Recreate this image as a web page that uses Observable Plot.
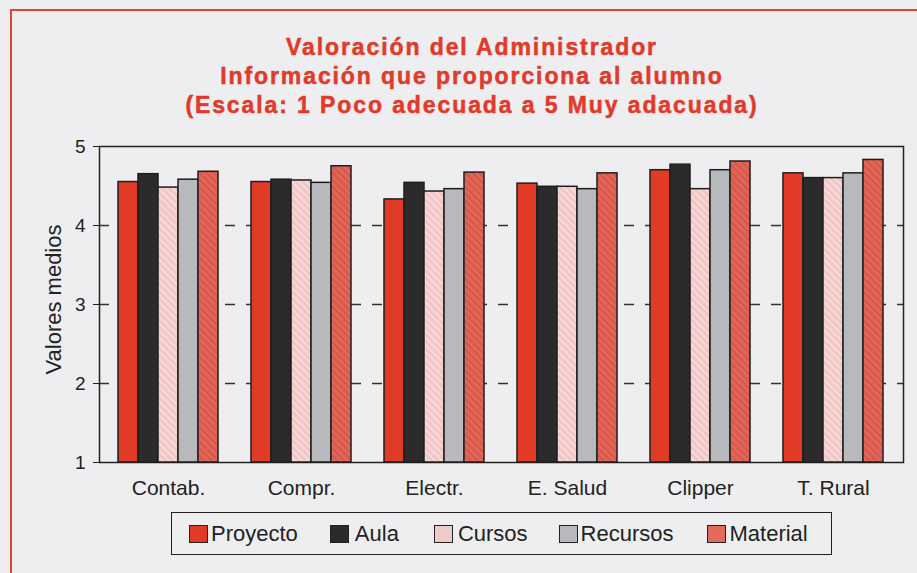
<!DOCTYPE html>
<html>
<head>
<meta charset="utf-8">
<script src="https://cdn.jsdelivr.net/npm/d3@7"></script>
<script src="https://cdn.jsdelivr.net/npm/@observablehq/plot@0.6"></script>
<style>
  html, body { margin: 0; padding: 0; width: 917px; height: 573px; overflow: hidden; background: #eeeef0; font-family: "Liberation Sans", Arial, sans-serif; }
  #box { position: absolute; left: 10px; top: 9px; width: 960px; height: 620px; border: 2.5px solid #e2452f; box-sizing: border-box; }
  #title { position: absolute; left: 0; width: 944px; top: 33px; text-align: center; color: #e13a2a; font-weight: bold; font-size: 23px; line-height: 29px; letter-spacing: 1.9px; -webkit-text-stroke: 0.5px #e13a2a; }
  #chart { position: absolute; left: 0; top: 120px; width: 917px; height: 390px; }
  #chart svg { position: absolute; left: 0; top: 0; }
  #legend { position: absolute; left: 171px; top: 512px; width: 661px; height: 43px; border: 1.5px solid #222; box-sizing: border-box; display: flex; align-items: center; padding-left: 17px; font-size: 22px; color: #222; }
  .item { display: flex; align-items: center; }
  .sw { width: 19px; height: 18px; border: 1.5px solid #222; box-sizing: border-box; }
</style>
</head>
<body>
<div id="box"></div>
<div id="title">Valoración del Administrador<br>Información que proporciona al alumno<br>(Escala: 1 Poco adecuada a 5 Muy adacuada)</div>
<div id="chart"></div>
<div id="legend"></div>
<script>
const categories = ["Contab.", "Compr.", "Electr.", "E. Salud", "Clipper", "T. Rural"];
const series = ["Proyecto", "Aula", "Cursos", "Recursos", "Material"];
const proyecto = [4.55, 4.55, 4.33, 4.53, 4.70, 4.66];
const aula     = [4.65, 4.58, 4.54, 4.49, 4.77, 4.60];
const cursos   = [4.48, 4.57, 4.43, 4.49, 4.46, 4.60];
const recursos = [4.58, 4.54, 4.46, 4.46, 4.70, 4.66];
const material = [4.68, 4.75, 4.67, 4.66, 4.81, 4.83];
const yTicks = [1, 2, 3, 4, 5];
const gridValues = [2, 3, 4];
const yLabel = "Valores medios";

const seriesValues = [proyecto, aula, cursos, recursos, material];
const swatchColors = ["#e03b26", "#2b2b2b", "#f1c9c8", "#b8b9bc", "#e2695c"];
const fills = ["#e03b26", "#2b2b2b", "url(#hatchCursos)", "#b8b9bc", "url(#hatchMaterial)"];

const data = categories.flatMap((c, i) => series.map((s, j) => ({category: c, series: s, value: seriesValues[j][i]})));

const common = {
  width: 917,
  height: 390,
  marginTop: 26,
  marginBottom: 48,
  marginLeft: 99,
  marginRight: 14,
  style: {background: "transparent", fontFamily: "'Liberation Sans', Arial, sans-serif", color: "#222"},
  y: {domain: [1, 5], label: null}
};

// Background layer: frame, dashed grid, y axis
const back = Plot.plot({
  ...common,
  marks: [
    Plot.ruleY(gridValues, {stroke: "#333", strokeWidth: 1.3, strokeDasharray: "10,11"}),
    Plot.frame({stroke: "#222", strokeWidth: 1.5}),
    Plot.axisY({ticks: yTicks, tickFormat: d3.format("d"), tickSize: 6, tickPadding: 8, fontSize: 19, label: null}),
    Plot.text([yLabel], {frameAnchor: "left", textAnchor: "middle", rotate: -90, dx: -46, dy: -5, fontSize: 22, fill: "#222"})
  ]
});

// Foreground layer: grouped bars (faceted by category) and category axis
const front = Plot.plot({
  ...common,
  fx: {domain: categories, paddingInner: 0.23, paddingOuter: 0.13, label: null},
  x: {domain: series, padding: 0, axis: null},
  color: {type: "ordinal", domain: series, range: fills},
  marks: [
    Plot.barY(data, {fx: "category", x: "series", y1: 1, y2: "value", fill: "series", stroke: "#1e1e1e", strokeWidth: 1.5}),
    Plot.axisFx({anchor: "bottom", tickSize: 0, tickPadding: 18, fontSize: 21, label: null}),
    Plot.axisY({ticks: [], label: null})
  ]
});

const ns = "http://www.w3.org/2000/svg";
const defs = document.createElementNS(ns, "defs");
defs.innerHTML = `
  <pattern id="hatchCursos" patternUnits="userSpaceOnUse" width="5" height="5" patternTransform="rotate(-45)">
    <rect width="5" height="5" fill="#f1c6c5"></rect>
    <rect width="2" height="5" fill="#f7dada"></rect>
  </pattern>
  <pattern id="hatchMaterial" patternUnits="userSpaceOnUse" width="5" height="5" patternTransform="rotate(-45)">
    <rect width="5" height="5" fill="#e0655a"></rect>
    <rect width="2" height="5" fill="#d85648"></rect>
  </pattern>`;
front.insertBefore(defs, front.firstChild);

const chart = document.getElementById("chart");
chart.appendChild(back);
chart.appendChild(front);

const itemGaps = [0, 32, 35, 31, 34];
const labelGaps = [3, 6, 5, 3, 3];
const legend = document.getElementById("legend");
series.forEach((s, i) => {
  const item = document.createElement("div");
  item.className = "item";
  item.style.marginLeft = itemGaps[i] + "px";
  const sw = document.createElement("div");
  sw.className = "sw";
  sw.style.background = swatchColors[i];
  sw.style.marginRight = labelGaps[i] + "px";
  const label = document.createElement("span");
  label.textContent = s;
  item.appendChild(sw);
  item.appendChild(label);
  legend.appendChild(item);
});
</script>
</body>
</html>
